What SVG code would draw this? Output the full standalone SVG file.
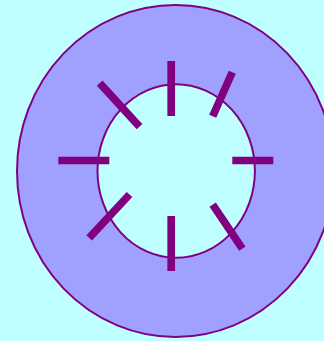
<svg xmlns="http://www.w3.org/2000/svg" width="324" height="341" viewBox="0 0 324 341">
<style>
.outline{stroke:#800080;stroke-width:2}
.tick{stroke:#800080;stroke-width:7.7;stroke-linecap:butt}
</style>
<rect width="324" height="341" fill="#c0ffff"/>
<g id="outer">
<ellipse class="outline" cx="175.5" cy="171" rx="158.5" ry="166" fill="#a0a0ff"/>
</g>
<g id="inner">
<ellipse class="outline" cx="176.2" cy="171" rx="78.7" ry="86.7" fill="#c0ffff"/>
</g>
<g id="ticks">
<line class="tick" x1="171.2" y1="61" x2="171.2" y2="116"/>
<line class="tick" x1="171.2" y1="216" x2="171.2" y2="271"/>
<line class="tick" x1="58.3" y1="160.5" x2="109.3" y2="160.5"/>
<line class="tick" x1="232.3" y1="160.5" x2="273.3" y2="160.5"/>
<line class="tick" x1="99.7" y1="83.2" x2="139.5" y2="126.7"/>
<line class="tick" x1="232.3" y1="72.3" x2="212.7" y2="116.2"/>
<line class="tick" x1="129.5" y1="194.5" x2="89.2" y2="237.8"/>
<line class="tick" x1="212.7" y1="204.7" x2="242.3" y2="248.7"/>
</g>
</svg>
